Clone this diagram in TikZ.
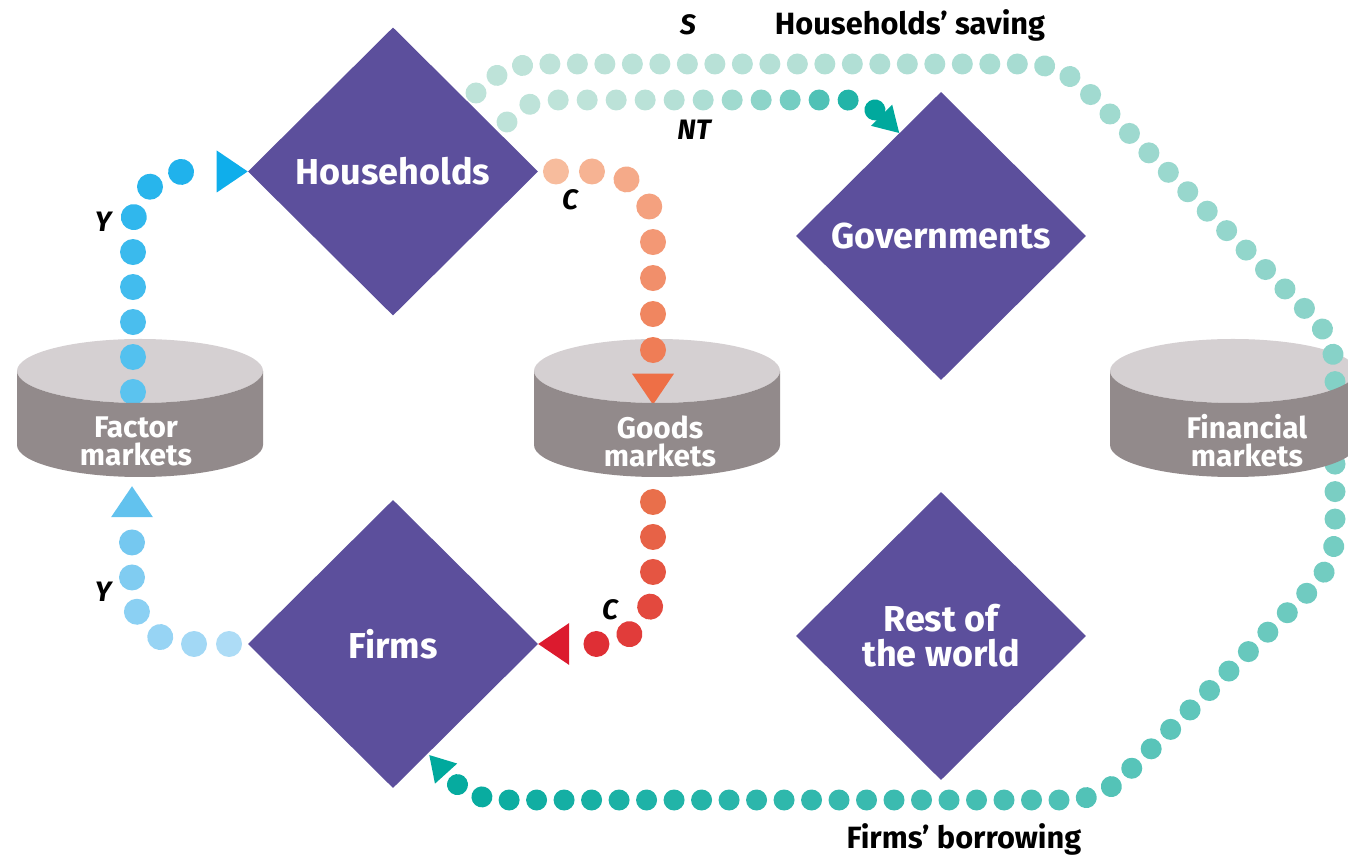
\documentclass[tikz,border=0pt]{standalone}
\usepackage{fontspec}
\setmainfont{Fira Sans}
\usetikzlibrary{shapes.geometric,decorations.markings,calc}
\definecolor{violet}{HTML}{5C4F9C}
\definecolor{dessus}{HTML}{D5D0D2}
\definecolor{cote}{HTML}{928A8B}
\definecolor{bleuA}{HTML}{5BC3EF}
\definecolor{bleuB}{HTML}{0FAEEB}
\definecolor{cielA}{HTML}{B3DEF7}
\definecolor{cielB}{HTML}{62C2EE}
\definecolor{orangeA}{HTML}{F7C0A2}
\definecolor{orangeB}{HTML}{EE6F46}
\definecolor{rougeA}{HTML}{E96F4B}
\definecolor{rougeB}{HTML}{DC1A2E}
\definecolor{vertA}{HTML}{BEE3D9}
\definecolor{vertB}{HTML}{00A99D}
\tikzset{
  rayon/.store in=\rayonpt, rayon=13,
  pointe/.store in=\longpointe, pointe=31,
  largeur/.store in=\demilarg, largeur=21,
  exposant/.store in=\exposant, exposant=1,
  gain/.store in=\gain, gain=1,
  gros/.style={rayon=13, pointe=31, largeur=21},
  petit/.style={rayon=10.5, pointe=25, largeur=15},
  % #1 couleur debut, #2 couleur fin, #3 depart, #4 pas, #5 arret avant la pointe
  flux/.style n args={5}{decorate, decoration={markings,
      mark=between positions #3 and -#5 step #4 with {%
        \pgfmathtruncatemacro\pct{min(100,\gain*100*((\pgfkeysvalueof{/pgf/decoration/mark info/distance from start}+0.1pt)/\pgfdecoratedpathlength)^\exposant)}%
        \fill[#2!\pct!#1] (0,0) circle[radius=\rayonpt];},
      mark=at position 0.999 with {\fill[#2, sharp corners] (0,0) -- (-\longpointe,\demilarg) -- (-\longpointe,-\demilarg) -- cycle;}}}
}
\begin{document}
\begin{tikzpicture}[x=0.02cm,y=0.02cm]
	\tikzstyle{losange}=[diamond, fill=violet, minimum width=5.8cm, minimum height=5.76cm, inner sep=0pt, outer sep=0pt, text=white, align=center, font=\fontsize{20.5}{20}\selectfont\bfseries]
	\tikzstyle{marche}=[text=white, align=center, font=\fontsize{17}{16}\selectfont\bfseries]
	\tikzstyle{legende}=[anchor=base, font=\fontsize{17.5}{18}\selectfont\bfseries]
	\tikzstyle{lettre}=[anchor=base, font=\fontsize{16}{18}\selectfont\bfseries\itshape]
	\useasboundingbox (0,0) rectangle (1348,855);
	% losanges
	\node[losange] (households) at (393,683.5) {Households};
	\node[losange] (governments) at (941,619) {Governments};
	\node[losange] (firms) at (393,211) {Firms};
	\node[losange] (rest) at (941,219) {Rest of\\the world};
	% dessus des cylindres
	\foreach \cx in {140,657,1233}
		\fill[dessus] (\cx,484) ellipse[x radius=123, y radius=32];
	% flux
	\coordinate (y1) at (133,463);
	\coordinate (y2) at (132,369);
	\coordinate (c1) at (653,450);
	\coordinate (c2) at (653,353);
	\coordinate (nt0) at (507,733);
	\coordinate (s0) at (476,762);
	\path[gros, rounded corners=1.1cm, flux={bleuA}{bleuB}{0cm}{0.7cm}{1.2cm}] (y1) |- (households.west); % Y haut
	\path[gros, rounded corners=1.1cm, flux={cielA}{cielB}{0.38cm}{0.7cm}{1cm}] (firms.west) -| (y2); % Y bas
	\path[gros, rounded corners=1.1cm, flux={orangeA}{orangeB}{0.36cm}{0.72cm}{0.9cm}] (households.east) -| (c1); % C haut
	\path[gros, rounded corners=1.1cm, flux={rougeA}{rougeB}{0cm}{0.7cm}{0.96cm}] (c2) |- (firms.east); % C bas
	\path[petit, exposant=4, gain=1.6, flux={vertA}{vertB}{0cm}{0.58cm}{0.52cm}] (nt0) to[out=40,in=180] (548,755) -- (845,755) to[out=0,in=135] (governments.112); % NT
	\path[petit, exposant=1.5, rounded corners=0.6cm, flux={vertA}{vertB}{0cm}{0.55cm}{0.7cm}] (s0) -- (505,791) -- (1060,791) -- (1335,516) -- (1335,290) -- (1100,55) -- (470,55) -- ($(firms.south)!0.24!(firms.east)$); % S
	% cotes des cylindres
	\foreach \cx in {140,657,1233}
		\fill[cote] (\cx-123,484) -- (\cx-123,410) arc[start angle=180, end angle=360, x radius=123, y radius=32] -- (\cx+123,484) arc[start angle=0, end angle=-180, x radius=123, y radius=32] -- cycle;
	\node[marche] (factor) at (136,414) {Factor\\markets};
	\node[marche] (goods) at (660,414) {Goods\\markets};
	\node[marche] (financial) at (1247,414) {Financial\\markets};
	% textes
	\node[legende] (saving) at (910,820) {Households’ saving};
	\node[legende] (borrowing) at (964,7) {Firms’ borrowing};
	\node[lettre] (s) at (688,820) {S};
	\node[lettre] (nt) at (694,715) {NT};
	\node[lettre] (yhaut) at (103,623) {Y};
	\node[lettre] (ybas) at (103,253) {Y};
	\node[lettre] (chaut) at (570,645) {C};
	\node[lettre] (cbas) at (610,235) {C};
\end{tikzpicture}
\end{document}
